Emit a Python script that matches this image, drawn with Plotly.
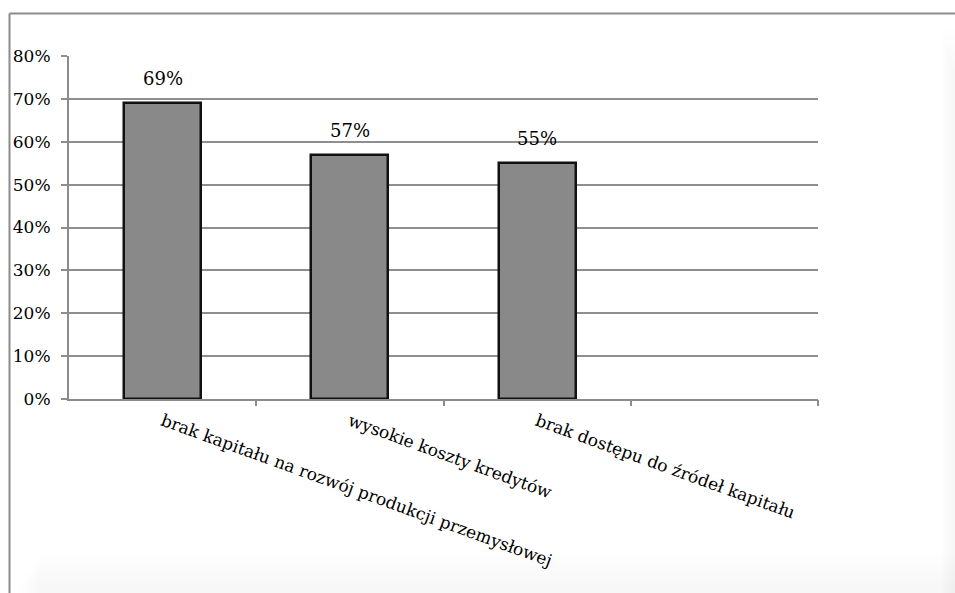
import plotly.graph_objects as go

# Survey answers: share of respondents naming each financial barrier
categories = [
    "brak kapitału na rozwój produkcji przemysłowej",
    "wysokie koszty kredytów",
    "brak dostępu do źródeł kapitału",
]
values = [0.69, 0.57, 0.55]
value_labels = ["69%", "57%", "55%"]

y_tick_values = [0, 0.1, 0.2, 0.3, 0.4, 0.5, 0.6, 0.7, 0.8]
y_tick_labels = ["0%", "10%", "20%", "30%", "40%", "50%", "60%", "70%", "80%"]

N_SLOTS = 4  # the category axis keeps one empty slot on the right
x_pos = list(range(len(categories)))
boundaries = [i + 0.5 for i in range(N_SLOTS)]

FONT = "DejaVu Serif"
GRID = "#8e8e8e"

W, H = 955, 593
L, R, T, B = 69, 137, 56, 194
pw, ph = W - L - R, H - T - B


def px_x(px):
    return (px - L) / pw


def px_y(py):
    return (H - B - py) / ph


fig = go.Figure()

fig.add_trace(go.Bar(
    x=x_pos,
    y=values,
    width=0.41,
    marker=dict(color="#898989", line=dict(color="#111111", width=2.5)),
    hoverinfo="skip",
))

# Invisible trace so the overlay axis with boundary ticks is drawn
fig.add_trace(go.Scatter(x=[boundaries[0]], y=[0], xaxis="x2", mode="markers",
                         marker=dict(opacity=0), hoverinfo="skip", showlegend=False))

for x, v, t in zip(x_pos, values, value_labels):
    fig.add_annotation(x=x, y=v, text=t, showarrow=False, yanchor="bottom",
                       yshift=12, font=dict(family=FONT, size=18, color="#000000"))

# Outer frame of the chart area with a soft shade at the lower right
shapes = []
for k in range(8):
    shapes.append(dict(type="rect", xref="paper", yref="paper", layer="below",
                       x0=px_x(941 + k * 1.5), x1=px_x(956),
                       y0=px_y(594), y1=px_y(30 + k * 6),
                       line=dict(width=0), fillcolor="rgba(0,0,0,0.004)"))
    shapes.append(dict(type="rect", xref="paper", yref="paper", layer="below",
                       x0=px_x(40 - k * 3), x1=px_x(956),
                       y0=px_y(594), y1=px_y(552 + k * 4.5),
                       line=dict(width=0), fillcolor="rgba(0,0,0,0.004)"))
shapes.append(dict(type="line", xref="paper", yref="paper",
                   x0=px_x(9.5), x1=px_x(956), y0=px_y(13.5), y1=px_y(13.5),
                   line=dict(color="#8c8c8c", width=2)))
shapes.append(dict(type="line", xref="paper", yref="paper",
                   x0=px_x(9.5), x1=px_x(9.5), y0=px_y(13.5), y1=px_y(594),
                   line=dict(color="#8c8c8c", width=2)))

fig.update_layout(
    width=W, height=H,
    margin=dict(l=L, r=R, t=T, b=B),
    paper_bgcolor="white",
    plot_bgcolor="white",
    showlegend=False,
    shapes=shapes,
    bargap=0,
    font=dict(family=FONT),
    xaxis=dict(
        range=[-0.5, N_SLOTS - 0.5],
        tickvals=x_pos,
        ticktext=categories,
        tickangle=20,
        ticks="",
        showgrid=False,
        zeroline=False,
        showline=True,
        linecolor="#8c8c8c",
        linewidth=2,
        tickfont=dict(family=FONT, size=17, color="#000000"),
        ticklabelstandoff=4,
        fixedrange=True,
    ),
    xaxis2=dict(
        range=[-0.5, N_SLOTS - 0.5],
        overlaying="x",
        anchor="y",
        side="bottom",
        tickvals=boundaries,
        ticks="outside",
        ticklen=6,
        tickwidth=2,
        tickcolor="#8c8c8c",
        showticklabels=False,
        showgrid=False,
        zeroline=False,
        showline=False,
    ),
    yaxis=dict(
        range=[0, 0.8],
        tickvals=y_tick_values,
        ticktext=y_tick_labels,
        ticks="outside",
        ticklen=6,
        tickwidth=2,
        tickcolor="#8c8c8c",
        showline=True,
        linecolor="#8c8c8c",
        linewidth=2,
        showgrid=True,
        gridcolor=GRID,
        gridwidth=2,
        zeroline=False,
        tickfont=dict(family=FONT, size=17, color="#000000"),
        ticklabelstandoff=7,
        fixedrange=True,
    ),
)

fig.write_html("out.html")
